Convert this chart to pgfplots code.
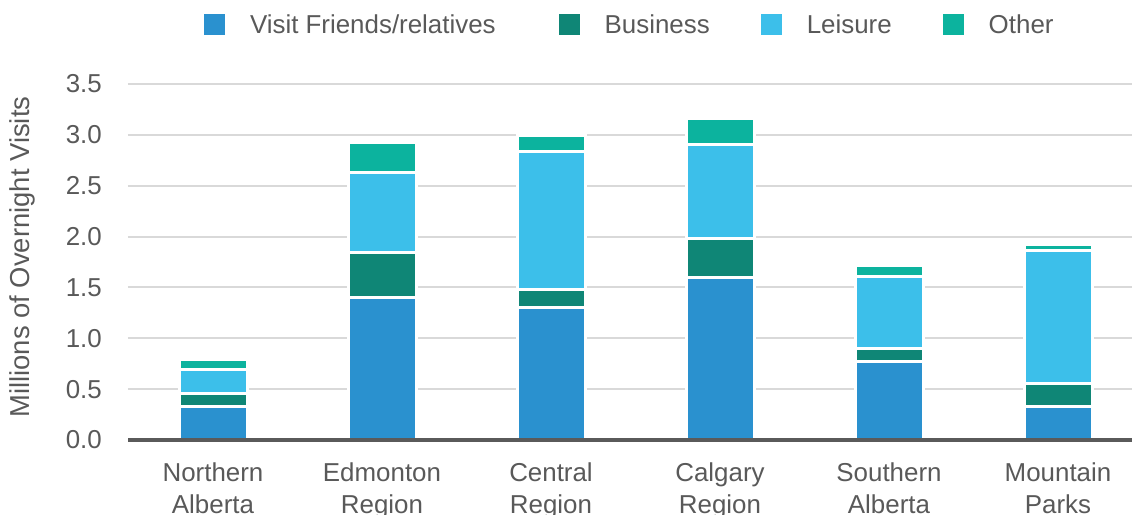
\documentclass[border=0pt]{standalone}
\usepackage{pgfplots}
\pgfplotsset{compat=1.18}
\usepackage{fontspec}
\setmainfont{Liberation Sans}
\definecolor{cVFR}{HTML}{2A91CF}
\definecolor{cBus}{HTML}{0F8676}
\definecolor{cLei}{HTML}{3CBFEA}
\definecolor{cOth}{HTML}{0CB39E}
\definecolor{cTxt}{HTML}{595959}
\definecolor{cGrid}{HTML}{D9D9D9}
\definecolor{cBase}{HTML}{5A5A5A}
\begin{document}
\begin{tikzpicture}
\useasboundingbox (-128bp,-75bp) rectangle (1004bp,440bp);
\begin{axis}[
  at={(0,0)}, anchor=south west,
  scale only axis, width=1004bp, height=356bp,
  ybar stacked, bar width=68bp,
  xmin=-0.503, xmax=5.438, ymin=0, ymax=3.5,
  ytick={0,0.5,...,3.5},
  xtick={0,1,2,3,4,5},
  xticklabels={{Northern\\Alberta},{Edmonton\\Region},{Central\\Region},{Calgary\\Region},{Southern\\Alberta},{Mountain\\Parks}},
  axis line style={draw=none},
  major tick length=0pt,
  ymajorgrids, grid style={cGrid, line width=2bp},
  /pgf/number format/assume math mode=true,
  /pgf/number format/fixed, /pgf/number format/fixed zerofill, /pgf/number format/precision=1,
  tick label style={font=\fontsize{26}{32}\selectfont, text=cTxt},
  yticklabel style={anchor=east, inner sep=0pt, xshift=-26bp},
  xticklabel style={align=center, anchor=north, inner sep=0pt, yshift=-23bp},
  ylabel={Millions of Overnight Visits},
  ylabel style={at={(axis description cs:-0.1056,0.514)}, anchor=center, font=\fontsize{27.5}{32}\selectfont, text=cTxt, inner sep=0pt},
  every axis plot/.append style={draw=white, line width=3bp},
  legend columns=4,
  legend style={at={(axis description cs:0.0757,1.1966)}, anchor=north west, draw=none, fill=none, inner sep=0pt, outer sep=0pt,
    nodes={inner sep=0pt, font=\fontsize{26}{32}\selectfont, text=cTxt},
    /tikz/every odd column/.append style={column sep=25bp},
    /tikz/every even column/.append style={column sep=51bp}},
  legend image code/.code={\fill[#1, draw=none] (0bp,-10.5bp) rectangle (21bp,10.5bp);},
]
\addplot[fill=cVFR] coordinates {(0,0.33) (1,1.40) (2,1.30) (3,1.60) (4,0.77) (5,0.33)};
\addplot[fill=cBus] coordinates {(0,0.13) (1,0.44) (2,0.18) (3,0.38) (4,0.13) (5,0.23)};
\addplot[fill=cLei] coordinates {(0,0.23) (1,0.79) (2,1.36) (3,0.93) (4,0.71) (5,1.30)};
\addplot[fill=cOth] coordinates {(0,0.10) (1,0.29) (2,0.15) (3,0.25) (4,0.11) (5,0.06)};
\legend{Visit Friends/relatives\rule{12bp}{0pt}, Business, Leisure, Other}
\end{axis}
\draw[cBase, line width=4.5bp] (0,0) -- (1004bp,0);
\end{tikzpicture}
\end{document}
